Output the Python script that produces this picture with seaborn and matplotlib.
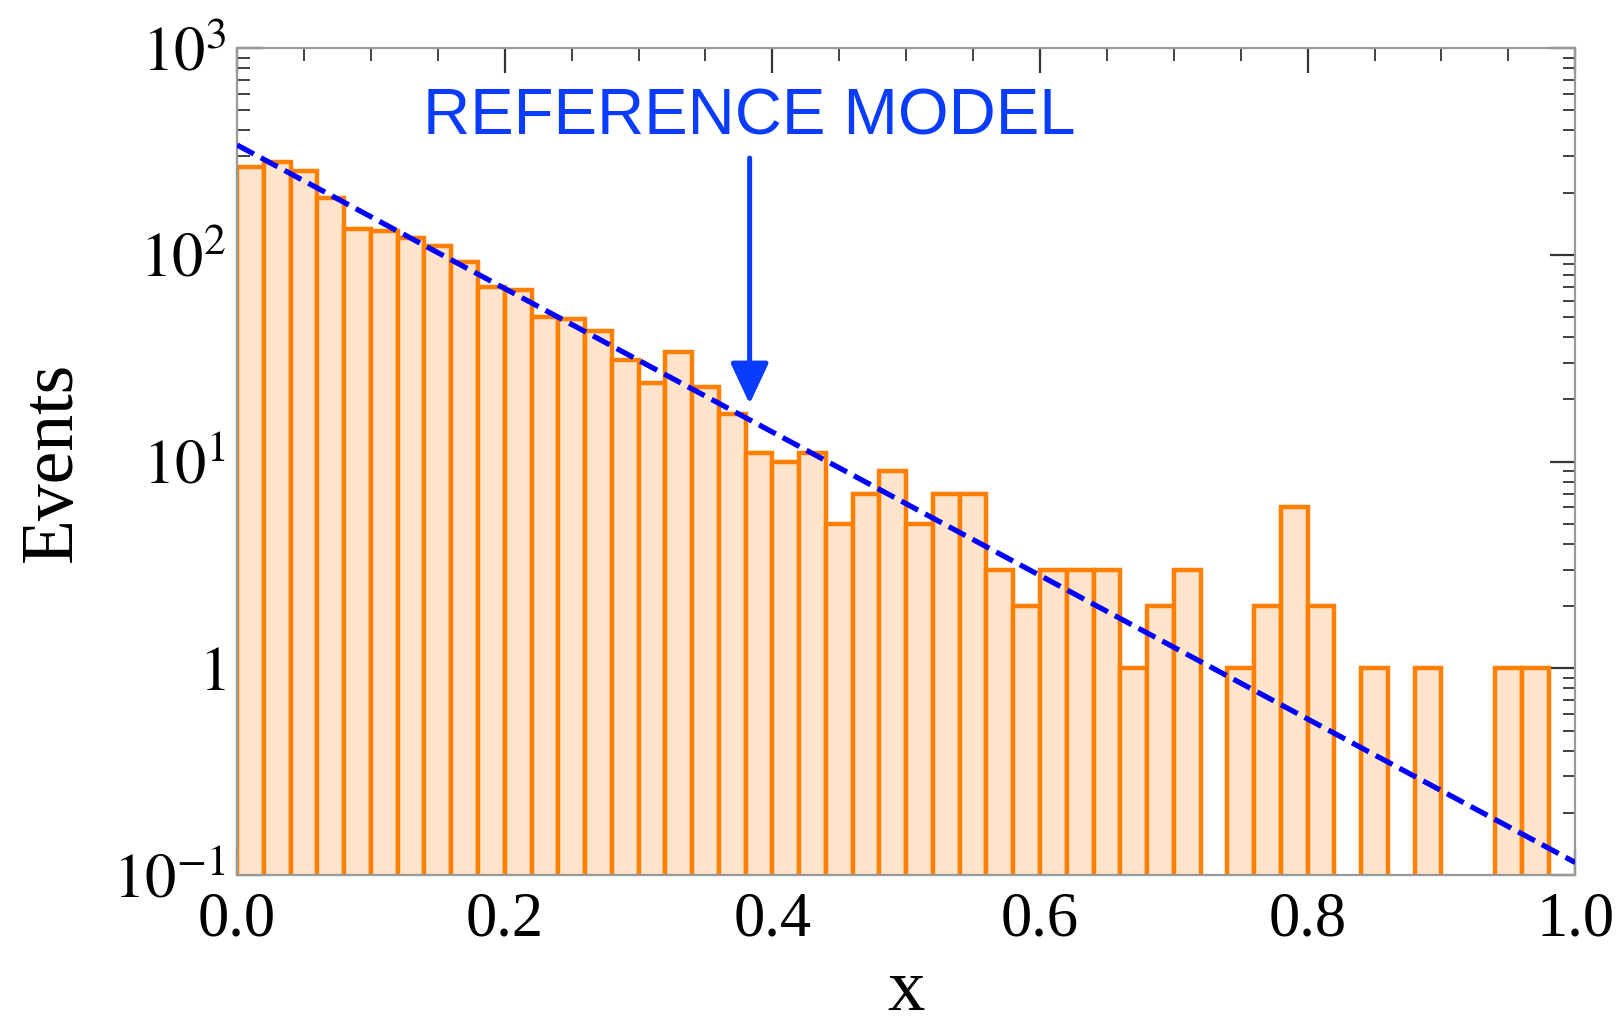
import numpy as np
import pandas as pd
import matplotlib
matplotlib.use("Agg")
import matplotlib.pyplot as plt
import seaborn as sns
from matplotlib.ticker import FixedLocator, FixedFormatter, LogLocator, MultipleLocator, NullFormatter

# ---- data ----
bin_width = 0.02
bin_range = (0.0, 1.0)
counts = [267, 280, 256, 188, 134, 131, 121, 110, 92, 70,
          68, 50, 49, 43, 31, 24, 34, 23, 17, 11,
          10, 11, 5, 7, 9, 5, 7, 7, 3, 2,
          3, 3, 3, 1, 2, 3, 0, 1, 2, 6,
          2, 0, 1, 0, 1, 0, 0, 1, 1, 0]
model_x = [0.0, 1.0]
model_y = [340.0, 0.115]
annot_text = "REFERENCE MODEL"
annot_x = 0.383
annot_text_y = 460.0
arrow_start_y = 294.0
arrow_tip_y = 19.0
ytick_vals = [0.1, 1, 10, 100, 1000]
ytick_labels = [r"$10^{-1}$", r"$1$", r"$10^{1}$", r"$10^{2}$", r"$10^{3}$"]
xtick_vals = [0.0, 0.2, 0.4, 0.6, 0.8, 1.0]
xtick_labels = ["0.0", "0.2", "0.4", "0.6", "0.8", "1.0"]

centers = [bin_range[0] + (i + 0.5) * bin_width for i in range(len(counts))]
df = pd.DataFrame({"x": centers, "w": counts})
model_df = pd.DataFrame({"x": model_x, "y": model_y})

sns.set_style("white")
plt.rcParams["font.family"] = ["Liberation Serif", "DejaVu Serif"]
plt.rcParams["mathtext.fontset"] = "stix"

EDGE = "#FF8000"
FILL = "#FFE4CC"
BLUE = "#0000FF"
ABLUE = "#0A3CFF"

fig = plt.figure(figsize=(16.24, 10.25), dpi=100)
ax = fig.add_axes([0.146, 0.1463, 0.824, 0.8067])

sns.histplot(data=df, x="x", weights="w", binwidth=bin_width, binrange=bin_range,
             stat="count", color=EDGE, alpha=1.0, ax=ax)
for p in ax.patches:
    p.set_facecolor(FILL)
    p.set_edgecolor(EDGE)
    p.set_linewidth(3.2)

ax.set_yscale("log")

sns.lineplot(data=model_df, x="x", y="y", ax=ax, color=BLUE, linewidth=3.8,
             zorder=5)
ax.lines[-1].set_dashes([3.6, 1.5])

ax.annotate("", xy=(annot_x, arrow_tip_y), xytext=(annot_x, arrow_start_y),
            arrowprops=dict(arrowstyle="-|>,head_length=0.9,head_width=0.42",
                            color=ABLUE, lw=3.6, mutation_scale=28,
                            shrinkA=0, shrinkB=0), zorder=6)
ax.text(annot_x, annot_text_y, annot_text, color=ABLUE, ha="center",
        va="center", fontsize=47, family=["Liberation Sans", "DejaVu Sans"],
        zorder=6)

ax.set_xlim(0, 1)
ax.set_ylim(0.1, 1000)

ax.xaxis.set_major_locator(FixedLocator(xtick_vals))
ax.xaxis.set_major_formatter(FixedFormatter(xtick_labels))
ax.xaxis.set_minor_locator(MultipleLocator(0.05))
ax.yaxis.set_major_locator(FixedLocator(ytick_vals))
ax.yaxis.set_major_formatter(FixedFormatter(ytick_labels))
ax.yaxis.set_minor_locator(LogLocator(base=10, subs=np.arange(2, 10), numticks=20))
ax.yaxis.set_minor_formatter(NullFormatter())

ax.tick_params(which="both", direction="in", top=True, right=True,
               bottom=True, left=True, color="#333333", labelcolor="black")
ax.tick_params(which="major", length=18, width=1.6)
ax.tick_params(which="minor", length=9, width=1.3)
ax.tick_params(axis="x", which="major", labelsize=45, pad=12)
ax.tick_params(axis="y", which="major", labelsize=45, pad=8)

for s in ax.spines.values():
    s.set_color("#999999")
    s.set_linewidth(1.6)

ax.set_xlabel("x", fontsize=54, color="black")
ax.set_ylabel("Events", fontsize=53, color="black")
ax.xaxis.set_label_coords(0.5, -0.101)
ax.yaxis.set_label_coords(-0.112, 0.5)

fig.savefig("out.png", dpi=100)
